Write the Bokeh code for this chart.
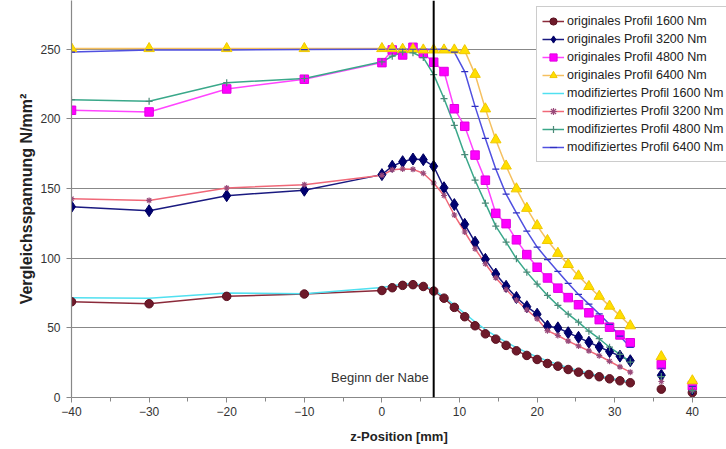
from bokeh.plotting import figure
from bokeh.models import Range1d, FixedTicker, Span, Label
from bokeh.embed import file_html
from bokeh.resources import INLINE

# ---- data ----
z = [-40, -30, -20, -10, 0, 1.33, 2.67, 4, 5.33, 6.67, 8, 9.33, 10.67, 12, 13.33,
     14.67, 16, 17.33, 18.67, 20, 21.33, 22.67, 24, 25.33, 26.67, 28, 29.33, 30.67, 32,
     36, 40]
n_line = 29  # points joined by lines (up to z = 32)

o1600 = [68.7, 67.3, 72.6, 74.3, 76.8, 78.8, 80.5, 81.0, 79.7, 76.4, 71.3, 64.7, 58.0, 51.5,
         45.7, 41.9, 37.4, 33.5, 30.2, 27.3, 24.4, 22.5, 20.1, 18.2, 16.5, 14.9, 13.4, 12.0, 10.6,
         6.0, 3.5]
o3200 = [137.0, 134.1, 144.9, 148.8, 160.0, 166.0, 169.3, 171.2, 170.7, 166.0, 150.6, 138.5, 124.3, 111.5,
         99.2, 88.6, 79.8, 71.8, 65.2, 59.8, 51.2, 50.0, 46.5, 43.2, 39.7, 36.3, 33.0, 29.7, 26.4,
         16.0, 6.0]
o4800 = [206.2, 205.0, 221.5, 228.5, 240.4, 249.5, 245.9, 251.4, 247.0, 240.7, 234.0, 207.3, 194.7, 174.0,
         156.0, 132.2, 124.8, 113.2, 102.6, 93.5, 85.8, 78.5, 71.7, 66.6, 60.8, 55.9, 50.5, 44.9, 39.3,
         23.5, 8.6]
o6400 = [250.5, 250.5, 250.5, 250.5, 250.5, 250.5, 250.0, 250.0, 249.5, 249.5, 249.5, 249.5, 249.0, 232.0,
         207.2, 185.0, 166.2, 149.8, 135.8, 123.4, 112.7, 103.5, 95.5, 87.3, 79.7, 72.7, 65.6, 58.8, 51.5,
         29.3, 12.0]
m1600 = [71.6, 71.3, 75.0, 74.5, 79.0, 80.3, 81.3, 81.8, 80.5, 77.3, 72.3, 66.3, 60.3, 54.3,
         48.8, 44.0, 39.8, 35.8, 32.3, 29.2, 26.3, 23.8, 21.3, 19.2, 17.3, 15.6, 14.0, 12.5, 11.0,
         6.3, 3.2]
m3200 = [142.7, 141.5, 150.4, 152.8, 159.5, 163.5, 164.0, 163.8, 161.0, 154.0, 145.0, 131.0, 118.8, 106.8,
         96.0, 86.0, 77.5, 70.0, 63.0, 56.5, 48.0, 44.5, 40.5, 37.0, 33.5, 30.0, 26.0, 22.0, 18.2,
         11.5, 5.0]
m4800 = [213.8, 212.6, 226.0, 229.0, 241.0, 245.0, 248.0, 247.5, 244.0, 231.8, 214.6, 195.4, 174.4, 156.0,
         139.5, 123.0, 111.6, 99.6, 90.0, 81.4, 73.3, 66.1, 59.8, 54.1, 47.6, 42.2, 36.1, 30.9, 25.4,
         15.0, 5.0]
m6400 = [248.0, 249.5, 249.5, 249.8, 250.0, 250.0, 250.0, 250.0, 250.0, 250.0, 250.0, 248.0, 234.0, 209.0,
         186.0, 164.0, 146.0, 132.5, 119.5, 108.0, 99.0, 90.5, 82.0, 74.0, 67.0, 60.0, 52.5, 44.0, 36.0,
         21.0, 8.0]

labels = ["originales Profil 1600 Nm", "originales Profil 3200 Nm",
          "originales Profil 4800 Nm", "originales Profil 6400 Nm",
          "modifiziertes Profil 1600 Nm", "modifiziertes Profil 3200 Nm",
          "modifiziertes Profil 4800 Nm", "modifiziertes Profil 6400 Nm"]
y_ticks = [0, 50, 100, 150, 200, 250]
x_ticks = [-40, -30, -20, -10, 0, 10, 20, 30, 40]
x_minor = [-35, -25, -15, -5, 5, 15, 25, 35]
nabe_z = 6.67
nabe_text = "Beginn der Nabe"
x_title = "z-Position [mm]"
y_title = "Vergleichsspannung N/mm²"

FONT = "Liberation Sans"

p = figure(width=726, height=449, output_backend="svg", toolbar_location=None,
           x_range=Range1d(-40, 44.4), y_range=Range1d(0, 285),
           min_border_left=71, min_border_right=0, min_border_top=0, min_border_bottom=52)
p.background_fill_color = "white"
p.border_fill_color = "white"
p.outline_line_color = None
p.xgrid.grid_line_color = None
p.ygrid.grid_line_color = "#888888"
p.ygrid.grid_line_width = 1.2

p.xaxis.ticker = FixedTicker(ticks=x_ticks, minor_ticks=x_minor)
p.yaxis.ticker = FixedTicker(ticks=y_ticks)
for ax in (p.xaxis[0], p.yaxis[0]):
    ax.axis_line_color = "#888888"
    ax.axis_line_width = 1.2
    ax.major_tick_line_color = "#888888"
    ax.minor_tick_line_color = "#888888"
    ax.major_tick_in = 0
    ax.major_tick_out = 5
    ax.minor_tick_in = 0
    ax.minor_tick_out = 4
    ax.major_label_text_font = FONT
    ax.major_label_text_font_size = "12px"
    ax.major_label_text_color = "#333333"
    ax.axis_label_text_font = FONT
    ax.axis_label_text_font_style = "bold"
    ax.axis_label_text_color = "#222222"
p.yaxis.minor_tick_line_color = None
p.xaxis.major_label_standoff = 4
p.yaxis.major_label_standoff = 6
p.xaxis.axis_label = x_title
p.yaxis.axis_label = y_title
p.xaxis.axis_label_text_font_size = "13px"
p.yaxis.axis_label_text_font_size = "16px"
p.xaxis.axis_label_standoff = 10
p.yaxis.axis_label_standoff = 2

zl = z[:n_line]

series = [
    (o1600, labels[0], "#8b2a3a", "circle", 8.5, "#6e1a2a", "#5a1020"),
    (o3200, labels[1], "#1a1a80", "diamond", 12, "#000070", "#000060"),
    (o4800, labels[2], "#ff44ff", "square", 8.5, "#ff00ff", "#e000e0"),
    (o6400, labels[3], "#f5c060", "triangle", 10.5, "#ffde00", "#f0c800"),
    (m1600, labels[4], "#50e0f0", None, 0, None, None),
    (m3200, labels[5], "#f06878", "asterisk", 6, None, "#9a4a7a"),
    (m4800, labels[6], "#3aa88a", "cross", 7, None, "#4a8a78"),
    (m6400, labels[7], "#5050e0", "dash", 7, None, "#3030c0"),
]

for ys, lab, lc, mk, sz, fc, mc in series:
    p.line(zl, ys[:n_line], line_color=lc, line_width=1.5, legend_label=lab)
for ys, lab, lc, mk, sz, fc, mc in series:
    if mk is None:
        continue
    p.scatter(z, ys, marker=mk, size=sz, fill_color=fc, line_color=mc,
              line_width=1.2 if fc is None else 1, legend_label=lab)

p.add_layout(Span(location=nabe_z, dimension="height", line_color="black", line_width=2))
p.add_layout(Label(x=nabe_z, y=14.4, text=nabe_text, text_align="right", text_baseline="middle",
                   x_offset=-5, text_font=FONT, text_font_size="13px", text_color="#333333"))

lg = p.legend[0]
lg.location = (465, 235)
lg.border_line_color = "#999999"
lg.border_line_width = 1
lg.background_fill_color = "white"
lg.background_fill_alpha = 1
lg.padding = 5
lg.margin = 0
lg.spacing = 0
lg.glyph_width = 22
lg.glyph_height = 18
lg.label_height = 18
lg.label_standoff = 3
lg.label_text_font = FONT
lg.label_text_font_size = "12.5px"
lg.label_text_color = "#222222"

open("out.html", "w").write(file_html(p, INLINE))
